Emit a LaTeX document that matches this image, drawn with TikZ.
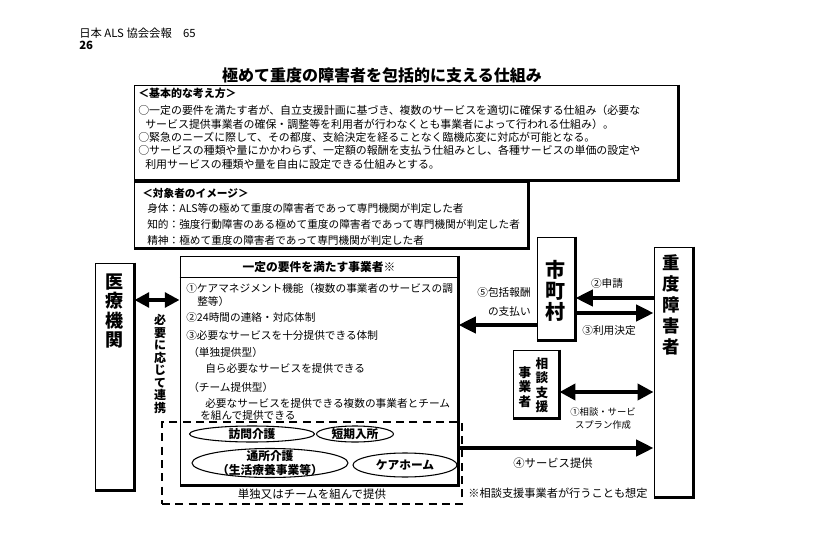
\documentclass[tikz,border=0pt]{standalone}
\usepackage{fontspec}
\setmainfont{Noto Sans CJK JP}
\usetikzlibrary{arrows.meta,positioning,shapes.geometric}
\tikzset{
  panel/.style={draw, line width=0.7pt, inner sep=0pt},
  heavy/.style={line width=1.6pt},
  txt/.style={anchor=west, inner sep=0pt, font=\fontsize{8}{9}\selectfont},
  lbl/.style={inner sep=0pt, font=\fontsize{8}{9}\selectfont},
  vlabel/.style={align=center, inner sep=0pt, font=\fontsize{13.5}{14.6}\selectfont\bfseries},
  svc/.style={draw, ellipse, line width=0.8pt, inner sep=0pt},
  svclabel/.style={inner sep=0pt, font=\fontsize{8.8}{10.5}\selectfont\bfseries},
  bigarrow/.style={line width=3pt, -{Triangle[length=13pt,width=12pt]}},
  dblarrow/.style={line width=3pt, {Triangle[length=12pt,width=12pt]}-{Triangle[length=12pt,width=12pt]}},
}
\begin{document}
\begin{tikzpicture}[x=0.75pt,y=-0.75pt]
  \useasboundingbox (0,0) rectangle (814,542);
  % header and title
  \node[anchor=west, inner sep=0pt, font=\fontsize{8.5}{10}\selectfont] (kaiho) at (79,33) {日本 ALS 協会会報　65};
  \node[anchor=west, inner sep=0pt, font=\fontsize{8.5}{10}\selectfont\bfseries] (pageno) at (79,45) {26};
  \node[inner sep=0pt, font=\fontsize{12}{14}\selectfont\bfseries] (title) at (382,75) {極めて重度の障害者を包括的に支える仕組み};

  % basic idea
  \node[panel, minimum width=408pt, minimum height=71.25pt] (kihon) at (406,132.5) {};
  \draw[heavy] (kihon.north east) -- (kihon.south east) -- (kihon.south west);
  \node[txt, font=\fontsize{8.2}{9}\selectfont] (k1) at (138,93) {\textbf{＜基本的な考え方＞}};
  \node[txt, font=\fontsize{8.2}{9}\selectfont] (k2) at (138,110) {○一定の要件を満たす者が、自立支援計画に基づき、複数のサービスを適切に確保する仕組み（必要な};
  \node[txt, font=\fontsize{8.2}{9}\selectfont] (k3) at (145,124) {サービス提供事業者の確保・調整等を利用者が行わなくとも事業者によって行われる仕組み）。};
  \node[txt, font=\fontsize{8.2}{9}\selectfont] (k4) at (138,137) {○緊急のニーズに際して、その都度、支給決定を経ることなく臨機応変に対応が可能となる。};
  \node[txt, font=\fontsize{8.2}{9}\selectfont] (k5) at (138,150) {○サービスの種類や量にかかわらず、一定額の報酬を支払う仕組みとし、各種サービスの単価の設定や};
  \node[txt, font=\fontsize{8.2}{9}\selectfont] (k6) at (145,164) {利用サービスの種類や量を自由に設定できる仕組みとする。};

  % target persons
  \node[panel, minimum width=295.5pt, minimum height=49.5pt] (taisho) at (331,215) {};
  \draw[heavy] (taisho.north east) -- (taisho.south east) -- (taisho.south west);
  \node[txt] (t1) at (142,193) {\textbf{＜対象者のイメージ＞}};
  \node[txt] (t2) at (147,208) {身体：ALS等の極めて重度の障害者であって専門機関が判定した者};
  \node[txt] (t3) at (147,224) {知的：強度行動障害のある極めて重度の障害者であって専門機関が判定した者};
  \node[txt] (t4) at (147,240) {精神：極めて重度の障害者であって専門機関が判定した者};

  % provider
  \node[panel, minimum width=208.5pt, minimum height=171.75pt] (jigyo) at (319,370.5) {};
  \draw[heavy] (jigyo.north east) -- (jigyo.south east) -- (jigyo.south west);
  \coordinate (hdr) at (0,277);
  \draw[line width=0.7pt] (jigyo.west |- hdr) -- (jigyo.east |- hdr);
  \node[inner sep=0pt, font=\fontsize{8.8}{10}\selectfont\bfseries] (jigyohd) at (319,267) {一定の要件を満たす事業者※};
  \node[txt] (m1) at (186,288) {①ケアマネジメント機能（複数の事業者のサービスの調};
  \node[txt] (m2) at (197,301) {整等）};
  \node[txt] (m3) at (186,317) {②24時間の連絡・対応体制};
  \node[txt] (m4) at (186,335) {③必要なサービスを十分提供できる体制};
  \node[txt] (m5) at (188,352) {（単独提供型）};
  \node[txt] (m6) at (205,368) {自ら必要なサービスを提供できる};
  \node[txt] (m7) at (188,387) {（チーム提供型）};
  \node[txt] (m8) at (205,403) {必要なサービスを提供できる複数の事業者とチーム};
  \node[txt] (m9) at (200,415) {を組んで提供できる};

  % services
  \node[svc, minimum width=93.75pt, minimum height=12pt, label={[svclabel]center:訪問介護}] (houmon) at (252,434) {};
  \node[svc, minimum width=57.75pt, minimum height=12pt, label={[svclabel]center:短期入所}] (tanki) at (355,434) {};
  \node[svc, minimum width=117pt, minimum height=21.75pt, label={[svclabel, align=center]center:通所介護\\（生活療養事業等）}] (tsusho) at (270,463) {};
  \node[svc, minimum width=78pt, minimum height=18pt, label={[svclabel]center:ケアホーム}] (carehome) at (405,465) {};
  \node[draw, line width=1.5pt, dash pattern=on 6pt off 4pt, inner sep=0pt, minimum width=225pt, minimum height=61.5pt] (team) at (312,463) {};
  \node[lbl, font=\fontsize{8.6}{10}\selectfont] (teamtxt) at (312,494) {単独又はチームを組んで提供};

  % medical institution
  \node[panel, minimum width=29.25pt, minimum height=170.25pt] (iryo) at (114.5,376.5) {};
  \draw[heavy] (iryo.north east) -- (iryo.south east) -- (iryo.south west);
  \node[vlabel] (iryotxt) at (114.5,311) {医\\療\\機\\関};
  \coordinate (y300) at (0,300);
  \draw[line width=3pt, {Triangle[length=11pt,width=11pt]}-{Triangle[length=11pt,width=11pt]}] (iryo.east |- y300) -- (jigyo.west |- y300);
  \node[align=center, inner sep=0pt, font=\fontsize{9}{9.4}\selectfont\bfseries] (renkei) at (160,364) {必\\要\\に\\応\\じ\\て\\連\\携};

  % municipality
  \node[panel, minimum width=28.5pt, minimum height=77.25pt] (shicho) at (556,288.5) {};
  \draw[heavy] (shicho.north east) -- (shicho.south east) -- (shicho.south west);
  \node[vlabel, font=\fontsize{15}{15.75}\selectfont\bfseries] (shichotxt) at (555,291) {市\\町\\村};

  % persons with severe disabilities
  \node[panel, minimum width=29.25pt, minimum height=187.5pt] (jyudo) at (673.5,372) {};
  \draw[heavy] (jyudo.north east) -- (jyudo.south east) -- (jyudo.south west);
  \node[vlabel, font=\fontsize{13}{15.75}\selectfont\bfseries] (jyudotxt) at (671,304.5) {重\\度\\障\\害\\者};

  % consultation support
  \node[panel, minimum width=34.5pt, minimum height=51pt] (soudan) at (536,384) {};
  \draw[heavy] (soudan.north east) -- (soudan.south east) -- (soudan.south west);
  \node[vlabel, font=\fontsize{9.5}{10.9}\selectfont\bfseries] (soudantxt) at (542,385) {相\\談\\支\\援};
  \node[vlabel, font=\fontsize{9.5}{10.9}\selectfont\bfseries] (jigyoshatxt) at (525,387) {事\\業\\者};

  % flows
  \coordinate (y298) at (0,298);
  \coordinate (y313) at (0,313);
  \coordinate (y325) at (0,325);
  \coordinate (y392) at (0,392);
  \coordinate (y448) at (0,448);
  \draw[bigarrow] (jyudo.west |- y298) -- (shicho.east |- y298);
  \node[lbl] (shinsei) at (607,283) {②申請};
  \draw[bigarrow] (shicho.east |- y313) -- (jyudo.west |- y313);
  \node[lbl] (kettei) at (609,330) {③利用決定};
  \draw[bigarrow] (shicho.west |- y325) -- (jigyo.east |- y325);
  \node[lbl, align=right, anchor=east, font=\fontsize{8}{14.25}\selectfont] (shiharai) at (531,302) {⑤包括報酬\\の支払い};
  \draw[dblarrow] (soudan.east |- y392) -- (jyudo.west |- y392);
  \node[lbl, align=center, font=\fontsize{7}{9.75}\selectfont] (plan) at (603,418) {①相談・サービ\\スプラン作成};
  \draw[bigarrow] (jigyo.east |- y448) -- (jyudo.west |- y448);
  \node[lbl, font=\fontsize{8.5}{10}\selectfont] (teikyo) at (553,463) {④サービス提供};
  \node[lbl, font=\fontsize{8.4}{10}\selectfont] (note) at (558,493) {※相談支援事業者が行うことも想定};
\end{tikzpicture}
\end{document}
